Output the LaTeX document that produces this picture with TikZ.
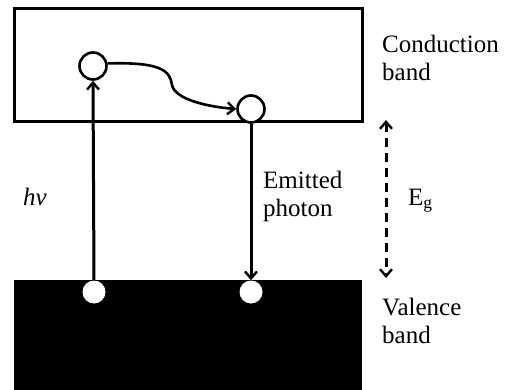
\documentclass[tikz,border=0pt]{standalone}
\usepackage{fontspec}
\setmainfont{Liberation Serif}
\usetikzlibrary{arrows.meta}
\begin{document}
\begin{tikzpicture}[x=1pt,y=-1pt,
  band/.style={line width=3pt},
  dot/.style={circle,draw,line width=2.6pt,fill=white,minimum size=27pt,inner sep=0pt},
  hole/.style={circle,fill=white,minimum size=23pt,inner sep=0pt},
  tip/.style={-{Straight Barb[length=7pt,width=12pt,line width=2.4pt]}},
  lbl/.style={font=\fontsize{25}{28}\selectfont,inner sep=0pt,align=left}]
\useasboundingbox (0,0) rectangle (508,390);
\draw[band] (14,9) rectangle (362,122);
\fill[black] (14,280) rectangle (362,390);
\node[dot] (c1) at (93,66) {};
\node[dot] (c2) at (251,109) {};
\node[hole] (h1) at (94,292) {};
\node[hole] (h2) at (251,292) {};
\draw[line width=3pt,tip] (h1.north) -- (c1.south);
\draw[line width=3pt,tip] (c2.south) -- (h2.north);
\draw[line width=2.6pt,tip] (c1.10) .. controls (160,62) and (170,70) .. (172,85)
  .. controls (175,100) and (210,107) .. (c2.180);
\coordinate (gt) at (386,120);
\coordinate (gb) at (386,278);
\draw[line width=3pt,dash pattern=on 9pt off 6pt,{Straight Barb[length=7pt,width=12pt,line width=2.4pt]}-{Straight Barb[length=7pt,width=12pt,line width=2.4pt]}] (gt) -- (gb);
\node[lbl,anchor=north west] (cb) at (382,35) {Conduction\\band};
\node[lbl,anchor=north west] (ep) at (263,171) {Emitted\\photon};
\node[lbl,anchor=north west] (vb) at (382,298) {Valence\\band};
\node[lbl,anchor=base west] (hv) at (23,205) {\textit{hν}};
\node[lbl,anchor=base west] (eg) at (408,205) {E\textsubscript{g}};
\end{tikzpicture}
\end{document}
